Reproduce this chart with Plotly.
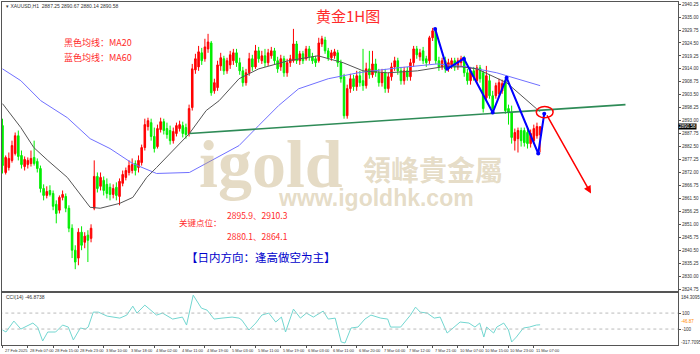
import plotly.graph_objects as go

# ---------------- data ----------------
opens = [2891.0,2872.0,2874.0,2876.9,2879.7,2886.9,2878.9,2874.4,2875.2,2875.6,
         2878.1,2876.5,2873.6,2865.5,2862.7,2864.7,2863.5,2859.1,2856.7,2861.9,
         2862.3,2857.5,2849.4,2840.5,2837.3,2847.8,2843.7,2846.6,2845.3,2857.5,
         2870.4,2866.4,2868.8,2867.2,2866.0,2863.1,2866.0,2862.3,2867.6,2870.0,
         2872.0,2872.8,2875.6,2874.0,2876.0,2882.1,2890.6,2892.2,2886.6,2882.5,
         2889.4,2892.6,2889.8,2889.0,2884.9,2887.8,2889.8,2891.0,2890.2,2887.8,
         2898.3,2913.6,2914.8,2920.5,2918.1,2922.1,2924.5,2905.1,2906.4,2915.2,
         2918.1,2913.2,2915.6,2917.3,2920.5,2916.5,2913.2,2908.4,2912.4,2918.1,
         2914.8,2921.3,2917.3,2919.3,2916.5,2919.3,2921.3,2917.3,2914.8,2918.1,
         2912.4,2916.5,2917.3,2924.1,2917.3,2920.1,2918.1,2922.1,2918.9,2918.1,
         2917.3,2924.1,2925.7,2921.3,2918.5,2919.3,2920.5,2916.5,2910.8,2895.0,
         2906.0,2910.0,2906.8,2911.2,2909.2,2907.2,2914.0,2911.6,2916.0,2912.4,
         2908.4,2912.4,2906.0,2910.8,2914.8,2917.3,2913.2,2909.2,2913.2,2910.8,
         2916.5,2922.1,2918.9,2921.3,2918.1,2917.3,2926.6,2929.4,2917.3,2914.8,
         2917.3,2914.0,2915.6,2917.3,2914.8,2916.5,2918.1,2912.4,2909.2,2913.2,
         2909.2,2914.4,2912.4,2902.3,2909.2,2903.1,2903.1,2903.9,2905.1,2909.2,
         2897.9,2896.3,2884.9,2885.7,2889.0,2889.0,2888.2,2883.7,2884.9,2886.9,
         2887.25]
highs = [2893.8,2878.9,2880.1,2884.9,2888.2,2889.0,2880.9,2878.5,2878.1,2880.9,
         2884.9,2877.7,2874.8,2867.2,2866.4,2866.8,2864.7,2860.7,2862.7,2864.7,
         2863.5,2858.7,2851.0,2842.5,2849.4,2850.2,2847.8,2848.6,2851.0,2876.9,
         2872.0,2872.0,2870.4,2869.6,2867.6,2867.2,2868.0,2869.6,2872.8,2874.0,
         2876.9,2877.7,2876.9,2878.9,2883.3,2893.8,2894.2,2893.8,2890.2,2891.4,
         2894.2,2893.8,2892.2,2891.0,2890.2,2892.2,2893.0,2892.6,2891.8,2899.5,
         2916.0,2920.1,2923.3,2922.5,2926.2,2928.2,2925.3,2910.0,2917.3,2920.5,
         2919.3,2918.5,2921.3,2922.1,2922.1,2918.5,2914.8,2914.0,2920.5,2919.7,
         2923.7,2922.9,2921.3,2922.1,2922.1,2922.9,2922.5,2918.9,2919.7,2919.3,
         2918.1,2919.7,2930.2,2925.3,2921.3,2921.3,2923.3,2923.3,2920.5,2919.3,
         2926.6,2927.4,2927.0,2922.5,2921.7,2922.1,2921.7,2917.7,2912.0,2907.6,
         2912.0,2911.6,2913.2,2913.2,2922.1,2916.5,2921.3,2921.3,2918.1,2914.0,
         2914.0,2914.0,2912.4,2916.5,2918.9,2918.5,2914.8,2914.8,2914.8,2918.1,
         2923.3,2923.3,2922.1,2922.9,2919.3,2927.4,2930.6,2930.2,2918.9,2918.5,
         2918.9,2918.1,2918.5,2918.5,2918.5,2919.3,2919.3,2914.0,2914.8,2914.8,
         2915.6,2915.6,2913.2,2915.2,2911.6,2905.1,2908.4,2910.0,2909.6,2910.4,
         2899.5,2899.1,2889.8,2890.2,2890.2,2890.2,2889.8,2889.4,2891.4,2892.2,
         2890.67]
lows = [2871.6,2871.2,2872.8,2876.0,2878.9,2876.9,2873.6,2872.8,2873.6,2874.4,
        2874.8,2872.0,2863.9,2860.7,2861.5,2862.3,2856.7,2851.4,2855.4,2860.7,
        2855.9,2847.8,2837.3,2832.8,2834.4,2840.5,2841.3,2835.7,2843.7,2856.7,
        2863.9,2864.7,2862.7,2861.5,2860.7,2861.5,2860.7,2858.7,2866.4,2868.8,
        2870.8,2871.6,2870.8,2872.0,2874.8,2880.9,2889.0,2884.9,2880.1,2881.7,
        2888.2,2887.4,2885.7,2883.3,2883.7,2886.6,2888.6,2886.2,2885.7,2886.6,
        2897.1,2912.0,2913.2,2915.6,2916.9,2920.5,2903.1,2903.9,2905.1,2913.2,
        2911.6,2912.0,2914.0,2915.6,2914.8,2911.6,2906.8,2907.2,2911.2,2913.2,
        2914.0,2916.5,2916.0,2914.8,2915.2,2918.1,2915.6,2912.4,2913.2,2910.8,
        2910.8,2914.8,2916.5,2916.0,2915.6,2916.0,2917.3,2917.3,2916.0,2914.8,
        2916.5,2922.9,2920.1,2917.3,2917.3,2918.1,2914.8,2908.4,2893.8,2893.8,
        2904.3,2905.1,2905.1,2906.8,2905.1,2906.0,2910.0,2910.4,2910.8,2906.8,
        2906.8,2904.3,2904.3,2909.2,2913.2,2911.6,2907.6,2907.6,2909.2,2909.2,
        2914.8,2918.1,2917.3,2916.0,2914.8,2916.0,2925.3,2916.0,2913.2,2913.6,
        2912.4,2912.8,2914.0,2913.2,2913.6,2914.8,2910.8,2907.6,2907.6,2909.2,
        2908.0,2908.4,2896.3,2901.1,2901.9,2896.3,2901.9,2902.7,2903.9,2895.8,
        2891.4,2883.7,2880.9,2880.1,2882.5,2882.5,2881.7,2882.1,2883.7,2885.7,
        2880.14]
closes = [2874.8,2878.1,2877.7,2882.9,2886.9,2878.5,2875.2,2877.3,2876.9,2877.7,
          2875.6,2873.6,2865.5,2862.7,2864.3,2863.1,2858.3,2855.4,2861.9,2863.1,
          2857.5,2849.4,2840.5,2835.7,2847.8,2842.5,2846.2,2844.5,2849.4,2870.4,
          2865.5,2870.0,2864.7,2863.5,2863.1,2865.5,2862.7,2868.4,2871.2,2872.8,
          2874.8,2875.2,2872.8,2876.9,2882.1,2891.4,2893.0,2886.6,2881.7,2889.8,
          2892.6,2889.0,2887.4,2884.9,2888.6,2891.0,2891.4,2887.8,2887.4,2897.9,
          2914.0,2918.1,2920.9,2917.3,2922.9,2924.9,2904.3,2908.4,2915.6,2918.5,
          2913.2,2917.3,2919.7,2920.5,2916.5,2913.2,2908.4,2912.4,2918.1,2914.8,
          2921.3,2918.1,2919.3,2916.5,2920.5,2921.3,2917.3,2914.0,2918.1,2912.4,
          2916.5,2918.1,2924.1,2917.3,2920.1,2917.3,2922.1,2918.9,2917.3,2916.5,
          2924.5,2926.2,2921.3,2918.5,2920.5,2920.9,2916.5,2910.0,2895.0,2906.0,
          2910.0,2906.8,2911.2,2908.4,2907.2,2914.0,2911.6,2916.0,2912.4,2908.4,
          2912.4,2906.0,2910.8,2914.8,2917.3,2913.2,2909.2,2913.2,2910.8,2916.5,
          2922.1,2919.7,2920.5,2917.3,2916.5,2926.6,2929.4,2917.3,2914.8,2917.3,
          2914.0,2916.5,2917.3,2914.8,2917.3,2918.1,2912.4,2909.2,2913.2,2910.8,
          2914.4,2910.0,2897.9,2911.2,2903.1,2897.9,2907.2,2908.4,2908.0,2897.1,
          2896.3,2886.2,2888.2,2889.0,2884.9,2884.1,2883.7,2887.8,2889.8,2890.6,
          2890.58]
bar_idx = list(range(len(opens)))

ma20_idx = [0, 5.8, 9.9, 14.3, 20.5, 23.7, 27.7, 30.9, 37.1, 41.2, 45.6, 48.7, 53.8,
            59.1, 64.4, 68.5, 74.8, 81, 90.4, 99.8, 107.7, 114, 121.8, 131.2, 139,
            145.3, 150, 159.4, 168.8, 170]
ma20_val = [2899.9, 2890.2, 2882.1, 2876.9, 2870.0, 2864.7, 2857.9, 2857.5, 2859.5,
            2861.9, 2870.0, 2874.0, 2880.9, 2887.8, 2897.1, 2901.1, 2910.0, 2914.0,
            2917.3, 2919.3, 2916.5, 2913.2, 2912.4, 2913.2, 2914.8, 2914.8, 2914.0,
            2908.4, 2897.9, 2896.7]
ma60_idx = [0, 5.8, 12.1, 20.5, 27.7, 34, 41.2, 48.7, 59.1, 66.3, 74.8, 81, 87.3,
            93.6, 103, 112.4, 124.9, 137.5, 146.9, 156.3, 168.8, 170]
ma60_val = [2914.0, 2909.2, 2901.1, 2894.2, 2885.7, 2881.7, 2875.6, 2871.6, 2872.0,
            2876.9, 2882.9, 2891.0, 2899.1, 2905.9, 2910.0, 2912.4, 2914.4, 2916.0,
            2914.8, 2912.4, 2907.6, 2907.2]

trend_idx = [59.1, 197.0]
trend_val = [2887.8, 2899.5]

zig_idx = [136.8, 140.6, 145.9, 155.0, 159.4, 169.4, 171.3]
zig_val = [2930.2, 2914.0, 2918.1, 2896.3, 2910.4, 2879.7, 2895.8]

circle_idx = [168.8, 174.1]
circle_val = [2894.2, 2898.7]
arrow_start = (171.9, 2895.8)
arrow_end = (186.1, 2863.5)

cci_idx = [0, 1.1, 3.6, 5.8, 9.6, 11.1, 12.7, 14.3, 16.8, 19, 20.8, 22.4, 24.6, 26.2,
           27.1, 28.7, 30.3, 33.1, 37.1, 39.3, 41.2, 42.5, 45, 48.7, 50.6, 53.8, 56.9,
           58.2, 60.3, 62.9, 64.7, 66.9, 69.4, 72.6, 74.8, 75.7, 77.9, 80.1, 82, 84.2,
           86.4, 88.2, 89.5, 92, 94.2, 96.1, 98.3, 101.4, 103, 105.2, 107.1, 108.3,
           110.2, 112.4, 114.6, 116.5, 119.6, 121.8, 122.7, 125.9, 129, 130.6, 132.1,
           134.3, 136.5, 138.4, 140.6, 142.8, 144.7, 147.5, 149.4, 150.9, 152.2, 153.1,
           155.3, 156.3, 158.5, 160, 161, 162.5, 164.7, 166.6, 168.8, 170]
cci_val = [-112, -137, 0, -100, -25, -75, -250, -137, -137, -50, -75, -237, -87, -100,
           -75, 112, 112, 62, 37, 75, 187, 100, 200, 75, 100, 25, 50,
           -50, 325, 162, 137, 25, 37, 50, 37, 12, -112, -25, 75, 100,
           -12, 50, -137, 150, 37, 100, 50, 125, 25, 37, -262, -275,
           -87, -75, 25, 75, 37, 25, -75, -75, 75, 175, 112,
           100, 37, 50, -150, -75, -12, -25, -75, -25, -200, -75,
           -150, -75, -25, -112, -262, -200, -87, -75, -50, -46.87]

time_label_idx = [0, 8, 16, 24, 32, 40, 48, 56, 64, 72, 80, 88, 96, 104, 112, 120,
                  128, 136, 144, 152, 160, 168]
time_labels = ["27 Feb 2025", "28 Feb 07:00", "28 Feb 15:00", "28 Feb 23:00",
               "3 Mar 10:00", "3 Mar 18:00", "4 Mar 02:00", "4 Mar 11:00",
               "4 Mar 19:00", "5 Mar 03:00", "5 Mar 11:00", "5 Mar 19:00",
               "6 Mar 03:00", "6 Mar 11:00", "6 Mar 20:00", "7 Mar 04:00",
               "7 Mar 12:00", "7 Mar 21:00", "10 Mar 07:00", "10 Mar 15:00",
               "10 Mar 23:00", "11 Mar 07:00"]
price_ticks = [2824.75, 2830.00, 2835.25, 2840.50, 2845.75, 2851.00, 2856.25, 2861.50,
               2866.75, 2872.00, 2877.25, 2882.50, 2887.75, 2893.00, 2898.25, 2903.50,
               2908.75, 2914.00, 2919.25, 2924.50, 2929.75, 2935.00, 2940.25]
cci_levels = [100, -100]
cci_scale_labels = ["184.3095", "-317.7095"]
last_price = 2890.58
last_cci = -46.8738
header = "▾ XAUUSD,H1  2887.25 2890.67 2880.14 2890.58"

title_text = "黄金1H图"
ma_notes = ["黑色均线：MA20", "蓝色均线：MA60"]
key_label = "关键点位："
key_levels = ["2895.9、2910.3", "2880.1、2864.1"]
direction = "【日内方向：逢高做空为主】"

# ---------------- figure ----------------
W, H = 700, 354
ML, MR, MT, MB = 1, 17, 1, 9
PW, PH = W - ML - MR, H - MT - MB


def px(x):
    return (x - ML) / PW


def py(y):
    return (H - MB - y) / PH


def note(x, y, text, size, color, family, xanchor="center", **kw):
    fig.add_annotation(x=px(x), y=py(y), xref="paper", yref="paper", text=text,
                       showarrow=False, xanchor=xanchor, yanchor="middle",
                       font=dict(family=family, size=size, color=color), **kw)


CJK = "Noto Sans CJK SC"
SANS = "Liberation Sans"
fig = go.Figure()

# watermark (faint)
wm = "rgba(190,165,110,0.40)"
note(272, 163, "<b>igold</b>", 68, wm, "Liberation Serif")
note(436, 168, "<b>領峰貴金屬</b>", 28, wm, "Noto Sans CJK TC")
note(378, 198, "<b>www.igoldhk.com</b>", 23, wm, SANS)

fig.add_trace(go.Candlestick(
    x=bar_idx, open=opens, high=highs, low=lows, close=closes,
    increasing=dict(line=dict(color="#ff0000", width=1), fillcolor="#ff0000"),
    decreasing=dict(line=dict(color="#00ee00", width=1), fillcolor="#00ee00"),
    whiskerwidth=0, xaxis="x", yaxis="y", hoverinfo="skip"))

fig.add_trace(go.Scatter(x=ma60_idx, y=ma60_val, mode="lines",
                         line=dict(color="#7070ff", width=1), xaxis="x", yaxis="y"))
fig.add_trace(go.Scatter(x=ma20_idx, y=ma20_val, mode="lines",
                         line=dict(color="#555555", width=1), xaxis="x", yaxis="y"))
fig.add_trace(go.Scatter(x=trend_idx, y=trend_val, mode="lines",
                         line=dict(color="#2e8b57", width=1.6), xaxis="x", yaxis="y"))
fig.add_trace(go.Scatter(x=zig_idx, y=zig_val, mode="lines+markers",
                         line=dict(color="#0000ff", width=2),
                         marker=dict(size=4, color="#0000ff"), xaxis="x", yaxis="y"))

fig.add_shape(type="circle", xref="x", yref="y", x0=circle_idx[0], x1=circle_idx[1],
              y0=circle_val[0], y1=circle_val[1], line=dict(color="#ff0000", width=1.5))
fig.add_annotation(x=arrow_end[0], y=arrow_end[1], ax=arrow_start[0], ay=arrow_start[1],
                   xref="x", yref="y", axref="x", ayref="y", text="", showarrow=True,
                   arrowhead=2, arrowsize=1, arrowwidth=1.5, arrowcolor="#ff0000")

# CCI
fig.add_trace(go.Scatter(x=cci_idx, y=cci_val, mode="lines",
                         line=dict(color="#72d6d0", width=1), xaxis="x2", yaxis="y2"))
for lv in cci_levels:
    fig.add_shape(type="line", xref="x2", yref="y2", x0=-1, x1=214, y0=lv, y1=lv,
                  line=dict(color="#bbbbbb", width=1, dash="dot"))

fig.update_layout(
    width=W, height=H, margin=dict(l=ML, r=MR, t=MT, b=MB),
    paper_bgcolor="white", plot_bgcolor="white", showlegend=False,
    xaxis=dict(domain=[0, 1], range=[-0.16, 213.6], anchor="y", showticklabels=False,
               showgrid=False, zeroline=False, showline=True, mirror=True,
               linecolor="#555555", linewidth=1, rangeslider=dict(visible=False), ticks=""),
    yaxis=dict(domain=[py(291), 1], range=[2823.9, 2941.1], side="right",
               tickvals=price_ticks, ticktext=[f"{v:.2f}" for v in price_ticks],
               ticks="outside", ticklen=2, tickcolor="#555555",
               tickfont=dict(family=SANS, size=4.6, color="#333333"),
               showgrid=False, zeroline=False, showline=True, mirror=True,
               linecolor="#555555", linewidth=1),
    xaxis2=dict(domain=[0, 1], range=[-0.16, 213.6], anchor="y2", showticklabels=False,
                tickvals=time_label_idx, ticks="outside", ticklen=2, tickcolor="#555555",
                showgrid=False, zeroline=False, showline=True, mirror=True,
                linecolor="#555555", linewidth=1),
    yaxis2=dict(domain=[0, py(293)], range=[-300, 350], side="right",
                tickvals=cci_levels, ticktext=[str(v) for v in cci_levels],
                ticks="outside", ticklen=2, tickcolor="#555555",
                tickfont=dict(family=SANS, size=4.6, color="#333333"),
                showgrid=False, zeroline=False, showline=True, mirror=True,
                linecolor="#555555", linewidth=1),
)

# time labels (left-aligned at tick, like the terminal)
for i, t in zip(time_label_idx, time_labels):
    fig.add_annotation(x=i, y=0, xref="x2", yref="paper", text=t, showarrow=False,
                       xanchor="left", yanchor="top", yshift=-1,
                       font=dict(family=SANS, size=4, color="#333333"))

# price tag
fig.add_annotation(x=1, y=last_price, xref="paper", yref="y", text=f"{last_price:.2f}",
                   showarrow=False, xanchor="left", yanchor="middle", bgcolor="#000000",
                   borderpad=0, font=dict(family=SANS, size=4.6, color="#ffffff"))
# CCI tags
note(684, 297, cci_scale_labels[0], 4.5, "#333333", SANS, xanchor="left")
note(684, 342, cci_scale_labels[1], 4.5, "#333333", SANS, xanchor="left")
note(684, 321, f"{last_cci:.2f}", 4.5, "#ff8c00", SANS, xanchor="left")
note(3, 297, f"CCI(14) {last_cci:.4f}", 5, "#333333", SANS, xanchor="left")
note(3, 5, header, 5, "#333333", SANS, xanchor="left")

# red / blue commentary
red = "#ff2a2a"
note(350, 15, title_text, 15, red, CJK)
for k, t in enumerate(ma_notes):
    note(62, 42 + 15 * k, t, 9, red, CJK, xanchor="left")
note(178, 222, key_label, 8.5, red, CJK, xanchor="left")
for k, t in enumerate(key_levels):
    note(226, 215 + 21 * k, t, 8.5, red, CJK, xanchor="left")
note(262, 257, direction, 11.5, "#0000cc", CJK)

fig.write_html("out.html")
